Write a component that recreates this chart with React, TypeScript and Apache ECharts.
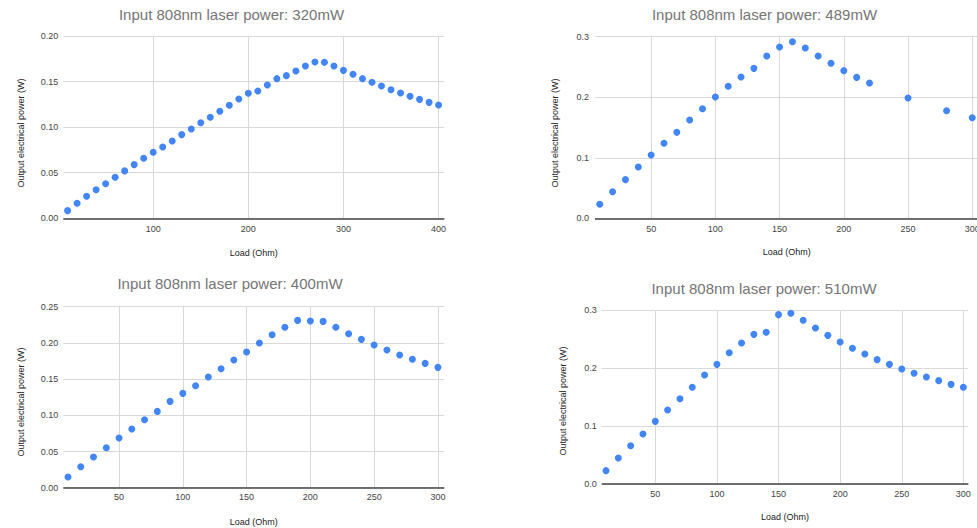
import React, { useEffect, useRef } from "react";
import * as echarts from "echarts";

// Chart titles
const titles = [
  "Input 808nm laser power: 320mW",
  "Input 808nm laser power: 489mW",
  "Input 808nm laser power: 400mW",
  "Input 808nm laser power: 510mW",
];

// Load (Ohm) values
const load320 = [10, 20, 30, 40, 50, 60, 70, 80, 90, 100, 110, 120, 130, 140, 150, 160, 170, 180, 190, 200, 210, 220, 230, 240, 250, 260, 270, 280, 290, 300, 310, 320, 330, 340, 350, 360, 370, 380, 390, 400];
const power320 = [0.0084, 0.0165, 0.0241, 0.0314, 0.038, 0.045, 0.052, 0.0589, 0.0658, 0.0724, 0.0782, 0.0848, 0.0918, 0.098, 0.1049, 0.1108, 0.1174, 0.124, 0.1309, 0.1371, 0.1397, 0.1463, 0.1532, 0.1565, 0.1616, 0.1671, 0.1715, 0.1711, 0.1671, 0.1623, 0.158, 0.1532, 0.1492, 0.1452, 0.1411, 0.1375, 0.1338, 0.1305, 0.1272, 0.1243];

const load489 = [10, 20, 30, 40, 50, 60, 70, 80, 90, 100, 110, 120, 130, 140, 150, 160, 170, 180, 190, 200, 210, 220, 250, 280, 300];
const power489 = [0.0231, 0.044, 0.0639, 0.0848, 0.1046, 0.1239, 0.142, 0.1624, 0.1811, 0.2004, 0.218, 0.2334, 0.2477, 0.2681, 0.2829, 0.2917, 0.2813, 0.2681, 0.256, 0.2439, 0.2328, 0.2235, 0.1987, 0.1778, 0.1662];

const load400 = [10, 20, 30, 40, 50, 60, 70, 80, 90, 100, 110, 120, 130, 140, 150, 160, 170, 180, 190, 200, 210, 220, 230, 240, 250, 260, 270, 280, 290, 300];
const power400 = [0.0147, 0.029, 0.0424, 0.0552, 0.0686, 0.081, 0.0939, 0.1054, 0.1192, 0.1303, 0.1409, 0.1529, 0.1644, 0.1763, 0.1874, 0.1998, 0.2113, 0.2215, 0.2311, 0.2302, 0.2297, 0.2215, 0.2127, 0.2049, 0.1971, 0.1901, 0.1832, 0.1773, 0.1717, 0.1662];

const load510 = [10, 20, 30, 40, 50, 60, 70, 80, 90, 100, 110, 120, 130, 140, 150, 160, 170, 180, 190, 200, 210, 220, 230, 240, 250, 260, 270, 280, 290, 300];
const power510 = [0.023, 0.0448, 0.0661, 0.0862, 0.108, 0.1276, 0.1471, 0.1667, 0.1879, 0.2063, 0.2264, 0.2431, 0.258, 0.2615, 0.292, 0.2943, 0.2822, 0.269, 0.2563, 0.2448, 0.2339, 0.2241, 0.2144, 0.2063, 0.1983, 0.1908, 0.1845, 0.1782, 0.1718, 0.1667];

const xName = "Load (Ohm)";
const yName = "Output electrical power (W)";

const FONT = "'Liberation Sans', Arial, sans-serif";

export default function App() {
  const ref = useRef<HTMLDivElement>(null);

  useEffect(() => {
    if (!ref.current) return;
    const chart = echarts.init(ref.current, undefined, { renderer: "svg" });

    const panels = [
      {
        title: titles[0], loads: load320, powers: power320,
        grid: { left: 63.3, top: 36, width: 381, height: 182.3 },
        titleX: 231.5, titleY: 6.5,
        xMin: 5.5, xMax: 406, xStep: 100,
        yMax: 0.2, yInt: 0.05, yDec: 2,
        xLabelMargin: 6.5, xNameGap: 30, yLabelMargin: 5,
        yNameX: 21, yNameY: 133,
      },
      {
        title: titles[1], loads: load489, powers: power489,
        grid: { left: 595, top: 36.7, width: 383.7, height: 181.6 },
        titleX: 764.5, titleY: 6.5,
        xMin: 6.3, xMax: 305, xStep: 50,
        yMax: 0.3, yInt: 0.1, yDec: 1,
        xLabelMargin: 6.5, xNameGap: 29.5, yLabelMargin: 6,
        yNameX: 555, yNameY: 133,
      },
      {
        title: titles[2], loads: load400, powers: power400,
        grid: { left: 63.3, top: 306.7, width: 381, height: 181 },
        titleX: 230, titleY: 276,
        xMin: 6.3, xMax: 305, xStep: 50,
        yMax: 0.25, yInt: 0.05, yDec: 2,
        xLabelMargin: 5, xNameGap: 29.5, yLabelMargin: 5,
        yNameX: 21, yNameY: 402,
      },
      {
        title: titles[3], loads: load510, powers: power510,
        grid: { left: 601.7, top: 310, width: 366.6, height: 174 },
        titleX: 764, titleY: 281,
        xMin: 6.5, xMax: 304, xStep: 50,
        yMax: 0.3, yInt: 0.1, yDec: 1,
        xLabelMargin: 5.5, xNameGap: 28.5, yLabelMargin: 5,
        yNameX: 563.3, yNameY: 401,
      },
    ];

    const option: any = {
      animation: false,
      backgroundColor: "#ffffff",
      title: panels.map((p) => ({
        text: p.title,
        left: p.titleX,
        top: p.titleY,
        textAlign: "center",
        padding: 0,
        textStyle: { fontFamily: FONT, fontSize: 15, fontWeight: "normal", color: "#757575" },
      })),
      grid: panels.map((p) => ({ ...p.grid, containLabel: false, outerBoundsMode: "none" })),
      graphic: panels.map((p) => ({
        type: "text",
        x: p.yNameX,
        y: p.yNameY,
        rotation: Math.PI / 2,
        style: {
          text: yName,
          fontFamily: FONT,
          fontSize: 9,
          fill: "#222",
          align: "center",
          verticalAlign: "middle",
        },
      })),
      xAxis: panels.map((p, i) => ({
        type: "value",
        gridIndex: i,
        min: p.xMin,
        max: p.xMax,
        splitNumber: 5,
        name: xName,
        nameLocation: "middle",
        nameGap: p.xNameGap,
        nameTextStyle: { fontFamily: FONT, fontSize: 9, color: "#222" },
        axisLine: { show: false },
        axisTick: { show: false },
        axisLabel: {
          fontFamily: FONT,
          fontSize: 9,
          color: "#444",
          margin: p.xLabelMargin,
          showMinLabel: false,
          showMaxLabel: false,
          formatter: (v: number) => (Math.abs(v % p.xStep) < 1e-6 ? String(v) : ""),
        },
        splitLine: {
          show: true,
          showMinLine: false,
          showMaxLine: false,
          lineStyle: { color: "#d9d9d9", width: 1 },
        },
      })),
      yAxis: panels.map((p, i) => ({
        type: "value",
        gridIndex: i,
        min: 0,
        max: p.yMax,
        interval: p.yInt,
        axisLine: { show: false },
        axisTick: { show: false },
        axisLabel: {
          fontFamily: FONT,
          fontSize: 9,
          color: "#444",
          margin: p.yLabelMargin,
          formatter: (v: number) => v.toFixed(p.yDec),
        },
        splitLine: { show: true, lineStyle: { color: "#d9d9d9", width: 1 } },
      })),
      series: [
        ...panels.map((p, i) => ({
          type: "scatter",
          xAxisIndex: i,
          yAxisIndex: i,
          symbol: "circle",
          symbolSize: 7,
          clip: false,
          itemStyle: { color: "#4285F4", opacity: 1 },
          data: p.loads.map((x, k) => [x, p.powers[k]]),
          z: 3,
        })),
        // baseline at y = 0
        ...panels.map((p, i) => ({
          type: "line",
          xAxisIndex: i,
          yAxisIndex: i,
          symbol: "none",
          silent: true,
          data: [],
          markLine: {
            silent: true,
            symbol: "none",
            label: { show: false },
            lineStyle: { color: "#444", width: 1.5, type: "solid" },
            data: [{ yAxis: 0 }],
          },
          z: 2,
        })),
      ],
    };

    chart.setOption(option);
    return () => chart.dispose();
  }, []);

  return (
    <div
      ref={ref}
      style={{ position: "fixed", left: 0, top: 0, width: 977, height: 528, background: "#fff" }}
    />
  );
}
